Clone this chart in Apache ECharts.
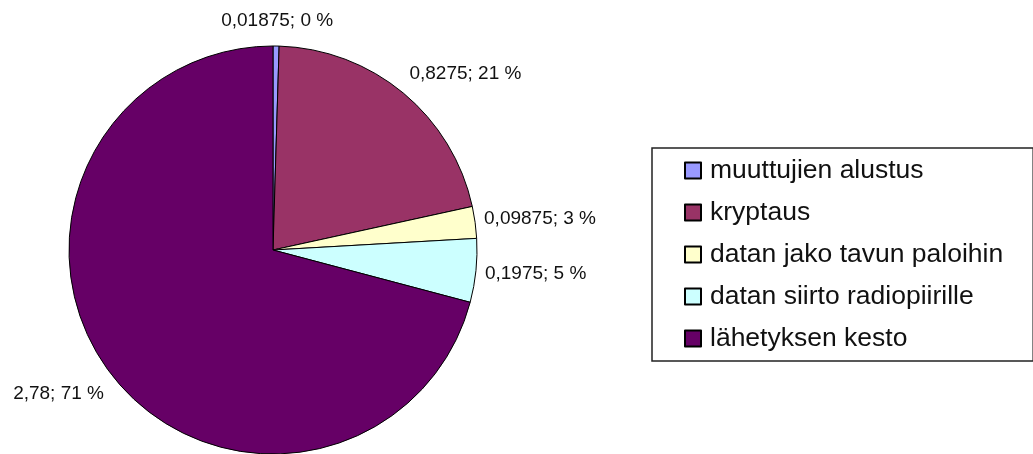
<!DOCTYPE html>
<html>
<head>
<meta charset="utf-8">
<style>
  html, body { margin: 0; padding: 0; background: #fff; }
  #chart { width: 1033px; height: 454px; }
</style>
<script src="https://cdn.jsdelivr.net/npm/echarts@6/dist/echarts.min.js"></script>
</head>
<body>
<div id="chart"></div>
<script>
// Time spent per phase of a radio transmission
const categories = [
  'muuttujien alustus',
  'kryptaus',
  'datan jako tavun paloihin',
  'datan siirto radiopiirille',
  'lähetyksen kesto'
];
const values = [0.01875, 0.8275, 0.09875, 0.1975, 2.78];
const colors = ['#9999FF', '#993366', '#FFFFCC', '#CCFFFF', '#660066'];

const total = values.reduce((a, b) => a + b, 0);

// mid angle of each slice, clockwise from 12 o'clock
const midAngles = [];
(function () {
  let acc = 0;
  values.forEach(v => {
    midAngles.push(2 * Math.PI * (acc + v / 2) / total);
    acc += v;
  });
})();

function fmtValue(v) {
  return String(v).replace('.', ',');
}

const chart = echarts.init(document.getElementById('chart'), null, { renderer: 'canvas' });

chart.setOption({
  animation: false,
  backgroundColor: '#ffffff',
  color: colors,
  textStyle: { fontFamily: 'Liberation Sans, Arial, sans-serif' },
  legend: {
    orient: 'vertical',
    left: 652,
    top: 148,
    padding: [9, 30, 9, 32],
    itemWidth: 16,
    itemHeight: 16,
    itemGap: 15,
    borderColor: '#222',
    borderWidth: 1.5,
    icon: 'rect',
    selectedMode: false,
    data: categories,
    textStyle: {
      fontFamily: 'Liberation Sans, Arial, sans-serif',
      fontSize: 26.5,
      lineHeight: 26,
      color: '#111',
      padding: [0, 0, 0, 4]
    }
  },
  series: [{
    type: 'pie',
    center: [273, 250],
    radius: 204,
    startAngle: 90,
    clockwise: true,
    avoidLabelOverlap: false,
    itemStyle: { borderColor: '#000', borderWidth: 1 },
    emphasis: { disabled: true },
    label: {
      show: true,
      position: 'outside',
      fontFamily: 'Liberation Sans, Arial, sans-serif',
      fontSize: 19,
      color: '#111',
      distanceToLabelLine: 1,
      formatter: p => fmtValue(p.value) + '; ' + Math.round(p.value / total * 100) + ' %'
    },
    labelLine: { show: false, length: 8, length2: 0 },
    // push labels away from the rim: upward above the centre, downward below it
    labelLayout: function (params) {
      const a = midAngles[params.dataIndex];
      const c = Math.cos(a);
      const out = { dy: c > 0 ? -c * 17 : -c * 23 };
      if (Math.abs(Math.sin(a)) < 0.2) out.align = 'center';
      return out;
    },
    data: categories.map((name, i) => ({ name: name, value: values[i] }))
  }]
});
</script>
</body>
</html>
